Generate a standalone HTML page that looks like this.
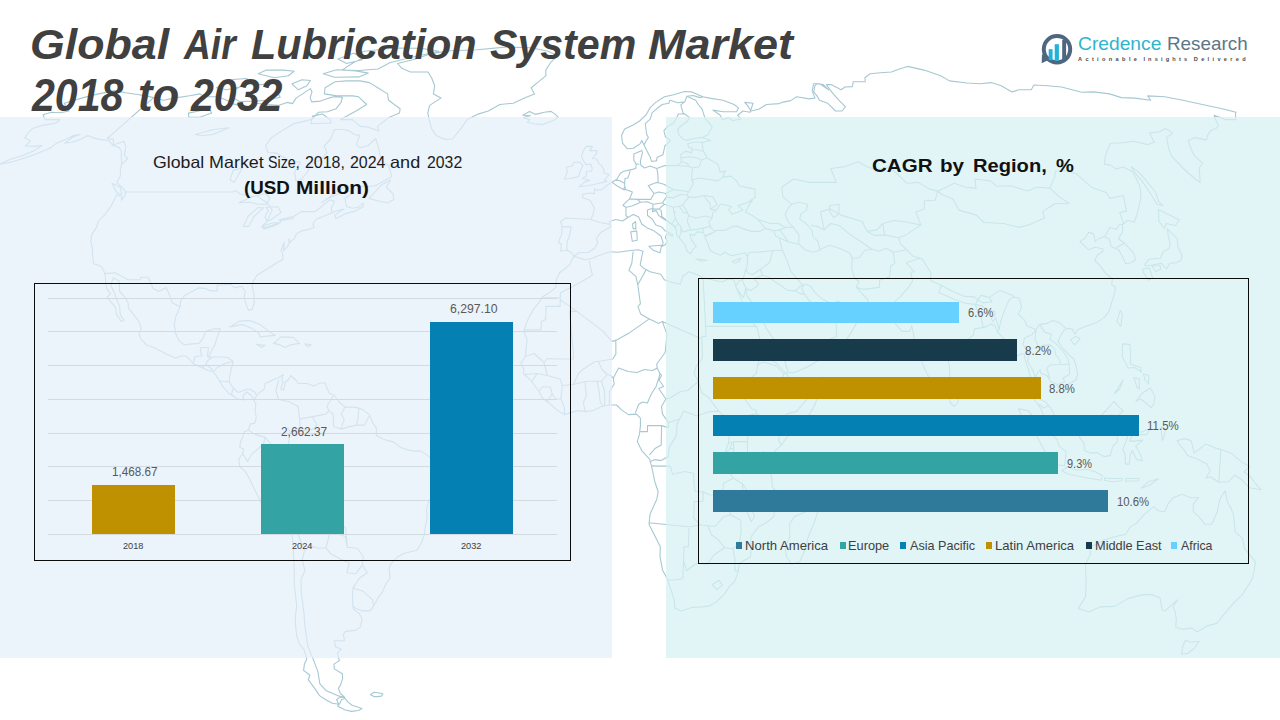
<!DOCTYPE html>
<html lang="en">
<head>
<meta charset="utf-8">
<title>Global Air Lubrication System Market 2018 to 2032</title>
<style>
html,body{margin:0;padding:0;}
body{width:1280px;height:720px;position:relative;overflow:hidden;background:#fff;font-family:"Liberation Sans",sans-serif;}
.abs{position:absolute;}
.panelL{left:0;top:117px;width:612px;height:541px;background:rgba(227,238,249,0.72);}
.panelR{left:666px;top:117px;width:614px;height:541px;background:rgba(215,241,243,0.72);}
#map{left:0;top:0;width:1280px;height:720px;}
.w{white-space:nowrap;transform-origin:0 0;}
.title{font-size:43px;line-height:50px;font-weight:bold;font-style:italic;color:#404040;}
.h1{font-size:16.5px;line-height:20px;color:#1c1c1c;}
.h2{font-size:19px;line-height:24px;font-weight:bold;color:#111;}
.c{white-space:nowrap;text-align:center;}
.boxL{left:34px;top:283px;width:537px;height:278px;border:1.5px solid #0b0b0b;box-sizing:border-box;}
.boxR{left:698px;top:278px;width:551px;height:286px;border:1.5px solid #0b0b0b;box-sizing:border-box;}
.grid{left:48px;width:509px;height:1px;background:#d3dbe1;}
.bar{position:absolute;}
.val{font-size:12.2px;line-height:15px;color:#595959;}
.yr{font-size:8.7px;line-height:11px;color:#404040;}
.lg{font-size:12.8px;line-height:16px;color:#404040;}
.sq{width:6px;height:6.6px;}
</style>
</head>
<body>
<svg id="map" class="abs" viewBox="0 0 1280 720" fill="none" stroke="#a6c8d2" stroke-width="1.1" stroke-linejoin="round" stroke-linecap="round">
<path d="M573.0,257.3 575.5,256.8 585.0,259.8 592.5,258.3 599.6,255.3 609.9,251.8 618.2,252.3 628.5,250.8 638.0,249.8 643.0,251.3 641.6,257.3 640.2,264.8 643.6,268.3 650.0,271.8 660.7,274.3 664.3,279.8 671.6,282.3 680.2,284.3 682.7,276.3 688.7,271.8 695.2,273.8 703.0,277.8 713.8,280.3 722.4,281.8 728.5,278.8 734.1,280.3 736.0,286.9 739.6,295.4 743.3,303.9 748.3,313.9 751.8,321.4 757.4,328.9 759.7,338.9 765.3,346.4 770.4,359.0 777.2,364.0 784.1,371.5 787.7,375.0 787.4,379.0 793.4,384.5 804.2,380.5 813.0,380.0 822.5,377.0 822.9,384.0 819.2,394.0 813.9,406.5 809.6,414.1 800.9,424.1 792.1,431.1 785.5,439.1 781.0,445.6 775.2,450.6 772.0,459.1 768.8,468.2 771.7,476.7 772.3,486.7 775.7,491.7 775.5,506.7 773.7,516.7 765.5,523.2 758.4,526.8 750.9,536.8 751.1,549.3 750.6,556.8 739.5,563.3 738.0,571.8 735.1,580.8 729.2,586.9 724.2,594.4 717.3,600.9 709.8,605.9 702.2,606.9 691.7,607.4 681.0,610.9 674.9,607.9 674.1,599.4 670.8,589.4 667.8,579.8 662.6,570.3 660.0,556.8 660.3,546.8 655.3,536.8 649.0,524.2 650.0,514.2 656.8,499.2 658.2,491.7 654.8,481.7 651.8,467.2 649.6,459.1 641.7,450.6 637.3,441.6 639.5,434.1 640.4,425.6 640.4,418.1 636.4,414.1 628.4,414.6 621.8,410.1 616.5,405.0 608.5,405.0 601.9,406.5 593.1,410.6 586.5,411.6 577.6,410.6 571.0,412.6 564.4,414.6 557.7,410.6 549.0,403.0 542.4,398.0 538.9,391.5 533.7,384.0 529.3,379.0 523.7,374.0 523.8,369.0 520.8,363.0 525.3,356.5 526.4,346.4 527.0,338.9 523.8,331.4 526.1,323.9 528.9,317.4 533.9,308.9 538.8,302.9 542.8,296.4 549.8,292.4 555.9,287.4 556.1,280.3 559.6,272.8 566.1,267.8 570.3,263.8 573.0,257.3
M814.2,496.7 817.8,511.7 814.5,521.7 808.3,536.8 804.1,551.8 799.8,561.8 791.8,564.3 786.4,556.8 785.0,546.8 790.0,536.8 789.5,524.2 794.3,516.7 805.6,511.7 810.3,503.2 814.2,496.7
M579.5,186.7 588.0,185.7 597.1,183.8 606.9,181.4 604.4,180.0 609.1,174.7 603.7,172.8 604.0,169.9 601.8,166.1 598.5,163.2 596.7,159.0 592.3,158.5 596.4,153.9 597.1,150.6 589.6,150.6 592.5,146.4 586.1,146.4 583.0,151.5 581.4,156.2 583.8,161.3 586.1,164.6 590.9,164.2 592.2,168.5 591.5,171.3 586.2,171.3 586.3,176.1 582.6,178.5 589.9,180.4 584.8,181.9 579.5,186.7
M564.3,179.0 570.8,178.5 578.7,176.6 580.2,171.3 583.0,165.6 580.0,162.3 573.8,162.3 572.1,166.1 566.4,167.0 567.4,171.8 565.6,176.1 564.3,179.0
M648.9,246.3 661.6,245.3 660.0,252.8 653.3,250.3 648.9,246.3
M630.8,231.9 636.8,230.9 637.2,240.3 632.3,241.3 630.8,231.9
M632.5,224.0 635.6,221.5 635.9,228.9 633.1,228.4 632.5,224.0
M695.7,258.8 707.1,260.3 700.9,261.3 695.7,258.8
M732.2,261.3 741.0,258.3 738.9,261.6 734.5,263.3 732.2,261.3
M791.9,204.3 799.4,202.3 807.6,204.3 806.5,210.1 801.1,213.6 799.7,219.0 806.6,224.0 812.4,231.4 812.8,236.3 817.9,241.3 820.1,250.3 812.6,252.3 805.1,249.8 798.7,243.8 799.0,234.9 793.3,227.4 788.0,221.5 785.2,214.1 788.4,207.7 791.9,204.3
M829.4,205.7 839.0,204.3 838.9,214.1 833.5,217.5 829.8,211.6 829.4,205.7
M397.6,63.5 415.5,59.0 431.4,53.6 450.1,50.7 477.3,49.8 505.2,47.1 530.9,47.7 548.1,51.2 557.6,55.7 550.5,62.7 545.8,70.1 545.9,75.7 538.7,81.7 531.2,87.8 534.5,93.9 525.7,97.6 513.2,103.2 499.9,104.5 488.3,111.0 477.2,114.4 467.2,119.6 460.9,128.6 452.4,139.0 445.2,139.4 436.0,135.4 431.6,128.6 429.5,121.0 427.8,113.1 429.6,105.4 440.9,98.1 433.4,93.9 434.7,85.8 431.6,77.7 428.0,72.0 410.4,72.0 401.9,68.3 397.6,63.5
M522.8,115.2 529.5,111.4 535.6,114.4 544.3,112.2 551.0,111.4 555.3,114.4 558.3,117.4 553.2,120.5 542.5,124.6 534.1,123.7 527.2,122.3 529.7,119.6 523.2,117.8 530.4,115.7 522.8,115.2
M360.0,80.9 369.4,82.6 377.8,87.8 387.6,93.9 388.5,100.2 400.1,108.8 399.5,113.1 388.9,117.4 377.6,126.4 378.8,130.9 368.6,127.3 360.5,126.4 352.3,119.6 340.5,119.6 356.0,111.0 366.6,104.5 358.6,96.8 352.8,95.9 336.9,95.9 324.4,93.9 325.1,87.8 335.1,81.7 346.4,80.9 360.0,80.9
M230.4,95.9 239.4,101.5 255.9,101.1 266.3,100.2 280.2,97.2 277.5,91.9 282.0,84.6 274.5,83.0 260.5,84.6 246.1,83.8 234.4,89.8 230.4,95.9
M216.6,87.8 226.6,89.8 239.3,87.0 251.5,81.7 246.2,78.5 229.7,79.7 216.6,87.8
M342.1,70.1 359.2,70.5 378.1,69.0 389.8,62.7 411.6,57.2 439.0,51.2 420.7,48.3 394.9,48.0 364.4,51.2 355.1,54.2 364.8,57.2 353.2,62.7 342.1,70.1
M323.2,73.8 334.5,77.3 358.8,76.9 368.3,73.1 355.9,70.9 336.7,69.8 323.2,73.8
M258.2,73.8 274.1,77.7 288.3,75.7 294.1,71.2 283.9,70.1 266.5,70.1 258.2,73.8
M292.0,83.8 298.3,89.8 306.9,85.8 310.4,80.5 302.1,79.7 292.0,83.8
M337.9,59.0 346.7,63.5 362.0,59.8 364.0,55.7 353.6,53.3 337.9,59.0
M312.5,116.1 322.4,114.0 330.3,119.6 330.8,123.2 321.3,123.2 310.8,123.7 312.5,116.1
M368.9,198.4 381.6,184.8 390.6,180.0 386.3,187.2 393.2,194.0 393.9,199.4 387.9,202.8 381.2,201.8 368.9,198.4
M112.0,183.3 120.5,187.2 121.6,194.5 116.9,193.0 112.0,183.3
M229.9,326.9 238.8,321.4 249.8,320.4 260.1,324.4 268.7,331.4 275.2,335.4 259.8,336.9 259.0,332.9 250.9,327.9 242.8,324.4 229.9,326.9
M273.5,343.4 281.1,336.9 293.2,337.4 299.6,343.4 290.3,344.9 284.8,347.5 280.3,344.9 273.5,343.4
M256.4,344.4 265.0,345.4 261.7,347.5 256.4,344.4
M304.8,343.9 311.2,344.9 307.6,346.7 304.8,343.9
M1131.1,166.6 1139.6,172.8 1147.6,182.4 1155.4,192.0 1158.8,201.8 1163.1,205.7 1157.1,204.3 1151.1,194.5 1143.0,182.4 1135.0,172.8 1131.1,166.6
M1158.5,209.6 1169.5,215.1 1179.4,220.0 1175.5,225.5 1166.2,223.5 1164.5,228.4 1158.9,221.5 1158.5,209.6
M1167.3,228.9 1177.4,238.8 1177.7,246.3 1182.1,256.3 1180.9,260.3 1176.7,262.8 1169.8,263.3 1166.6,268.8 1161.4,263.3 1153.7,264.8 1145.9,266.3 1144.7,264.3 1149.2,259.3 1160.3,258.3 1163.2,251.8 1168.7,248.8 1170.2,243.8 1168.4,236.3 1167.3,228.9
M1142.7,268.8 1149.6,268.3 1152.6,277.8 1148.6,280.3 1143.5,272.8 1142.7,268.8
M1152.2,266.3 1160.1,265.3 1160.5,269.3 1155.7,271.8 1152.2,266.3
M1120.3,310.4 1122.3,313.9 1120.9,326.4 1116.9,321.4 1120.3,310.4
M1070.4,339.9 1075.5,336.4 1080.2,338.4 1074.6,344.9 1070.4,339.9
M949.9,388.0 955.5,394.0 958.5,401.5 954.3,406.5 950.1,402.5 949.3,394.0 949.9,388.0
M1122.4,343.9 1129.9,344.4 1130.6,354.0 1130.4,364.0 1140.5,367.5 1141.5,372.0 1134.8,367.5 1128.3,368.0 1125.5,363.0 1122.3,356.5 1122.4,343.9
M1135.8,401.5 1141.9,393.5 1150.3,388.0 1154.9,396.5 1153.7,404.0 1151.3,407.6 1144.7,402.0 1140.1,399.0 1135.8,401.5
M1143.5,374.0 1148.9,375.5 1148.6,384.0 1145.0,380.0 1143.5,374.0
M1133.8,377.5 1139.2,379.0 1139.4,389.0 1137.1,387.5 1133.8,377.5
M1123.1,380.0 1114.2,394.0 1119.6,389.0 1123.1,380.0
M1079.6,429.1 1084.0,428.1 1089.6,423.1 1097.0,420.6 1103.4,413.1 1109.7,406.5 1113.8,401.5 1119.5,407.6 1123.2,410.6 1119.0,415.1 1118.3,421.6 1119.4,429.1 1117.3,435.1 1117.2,441.6 1112.7,446.6 1110.2,455.6 1104.0,456.6 1097.0,452.6 1090.4,453.1 1084.7,450.6 1084.0,443.1 1079.7,437.6 1079.6,429.1
M1018.4,408.6 1028.2,410.6 1033.7,417.6 1041.9,425.6 1048.7,431.6 1056.7,439.1 1059.6,446.6 1066.1,451.6 1064.7,465.6 1059.0,465.1 1050.5,457.6 1044.0,450.1 1039.8,441.6 1034.5,431.6 1028.6,424.1 1021.8,416.6 1018.4,408.6
M1061.8,470.7 1067.7,466.7 1076.4,470.2 1086.6,469.2 1095.2,471.7 1102.5,475.7 1101.3,480.2 1089.1,478.2 1076.0,475.7 1067.3,473.7 1061.8,470.7
M1127.4,432.6 1132.7,430.6 1141.6,432.1 1150.3,428.6 1147.0,434.6 1132.8,434.6 1129.6,441.1 1134.9,441.1 1142.9,440.1 1135.7,446.1 1140.3,454.1 1142.3,460.6 1136.6,459.6 1132.4,450.6 1130.1,455.6 1129.3,464.1 1125.3,464.1 1125.3,454.1 1122.7,450.1 1127.5,437.1 1127.4,432.6
M1177.0,440.6 1184.6,438.6 1191.1,440.6 1194.3,453.1 1205.6,444.1 1214.3,447.6 1220.9,449.6 1231.8,453.6 1241.2,461.6 1249.7,466.7 1244.0,471.7 1250.2,476.7 1258.1,486.7 1261.2,489.7 1249.2,487.7 1241.1,479.2 1234.8,475.2 1228.6,481.7 1218.8,482.2 1210.5,476.7 1205.9,478.2 1210.1,470.7 1207.0,464.1 1196.3,458.6 1187.5,455.6 1184.6,450.6 1179.1,444.1 1177.0,440.6
M1141.2,488.2 1148.4,481.7 1158.3,478.7 1150.4,484.7 1141.2,488.2
M1104.6,477.7 1112.0,478.7 1122.2,478.2 1122.0,480.7 1112.2,481.7 1104.4,480.2 1104.6,477.7
M1125.7,478.7 1138.9,478.2 1138.7,480.7 1125.5,481.2 1125.7,478.7
M1161.3,426.6 1165.8,429.1 1163.8,436.6 1162.4,440.6 1161.5,434.1 1161.3,426.6
M1089.8,546.8 1090.5,554.3 1085.5,564.3 1085.9,574.3 1086.0,586.9 1085.4,596.9 1078.4,608.4 1088.8,611.9 1099.9,606.9 1114.7,606.4 1128.3,598.4 1142.3,594.9 1151.8,594.4 1160.0,597.9 1162.2,609.9 1165.2,610.9 1177.3,599.9 1173.1,606.9 1175.2,611.9 1176.3,619.4 1175.7,626.9 1182.6,629.4 1191.6,627.9 1196.8,631.9 1207.1,625.9 1216.7,623.4 1226.1,611.9 1233.3,603.4 1242.6,594.4 1252.1,579.3 1254.4,569.3 1255.3,561.8 1249.4,554.3 1244.4,548.3 1242.5,538.3 1235.2,531.8 1234.5,524.2 1233.4,514.2 1230.9,508.2 1227.4,501.7 1225.0,490.7 1219.9,499.2 1217.3,511.7 1211.8,524.2 1204.8,524.2 1198.8,516.7 1193.2,511.7 1193.3,504.2 1198.5,497.7 1190.6,497.7 1182.3,494.2 1173.1,497.7 1167.9,504.2 1164.7,511.7 1158.3,510.7 1153.5,506.7 1144.6,514.2 1136.5,523.2 1130.2,526.8 1125.9,534.3 1114.6,536.8 1103.1,540.3 1093.8,545.8 1089.8,546.8
M1185.3,640.3 1191.2,642.3 1199.2,641.3 1194.9,647.7 1188.2,653.2 1181.6,654.2 1182.4,647.7 1185.3,640.3
M153.6,97.6 107.2,138.5 113.3,139.4 113.3,145.0 123.9,141.3 125.8,146.9 124.3,155.3 127.9,158.5 121.7,164.2
M125.0,192.0 175.6,192.0 232.8,192.0 235.6,190.6 240.2,194.0 250.4,196.4 256.5,195.9 267.1,202.8 270.1,206.7 272.2,210.1 267.1,221.5 262.8,225.5 264.2,227.9 280.3,222.5 281.2,219.5 292.8,217.0 301.2,211.6 315.1,211.6 322.6,205.7 329.6,199.9 334.4,201.3 331.3,208.2 331.9,212.1
M104.7,273.6 115.1,272.8 128.2,279.8 140.1,279.8 140.9,277.3 148.1,277.3 153.2,288.4 158.8,291.4 166.1,287.4 169.5,294.9 172.1,302.4 180.1,306.9
M193.0,363.5 195.2,356.5 201.8,356.0 200.3,350.5 200.7,347.5 208.5,347.5 207.4,356.5 211.2,358.0
M202.3,367.5 206.1,364.5 212.2,369.5 212.5,371.5
M206.1,364.5 206.8,361.5 211.2,358.0
M213.8,371.5 217.2,367.5 225.0,363.5 233.1,361.5
M220.5,381.0 224.9,381.5 229.2,382.0
M231.6,395.0 232.2,391.0 233.6,388.5
M238.9,202.8 252.0,196.9 265.6,193.5 269.8,197.9 266.7,204.3 257.7,204.3 250.9,202.3 238.9,202.8
M243.4,226.4 248.7,226.4 253.9,216.5 263.7,207.7 257.8,207.7 247.9,216.5 243.4,226.4
M265.9,207.2 278.0,206.7 280.9,212.6 270.6,220.0 266.9,221.0 265.1,216.5 268.4,210.6 265.9,207.2
M261.6,226.4 272.1,223.0 280.3,222.5 275.2,225.5 263.9,228.9 261.6,226.4
M278.6,220.0 290.8,217.0 293.3,218.5 285.4,220.0 278.6,220.0
M233.1,170.4 242.3,168.0 234.1,182.4 230.1,180.0 233.1,170.4
M195.4,134.5 213.7,129.5 229.0,127.7 212.9,134.5 201.2,135.8 195.4,134.5
M188.4,113.1 209.4,108.8 211.7,113.1 199.0,117.4 188.9,117.4 188.4,113.1
M560.3,297.9 541.9,297.9 560.3,297.9 560.1,306.4 546.0,306.4 545.7,319.4 541.3,321.4 541.1,329.9 523.8,329.9
M560.3,299.9 576.8,311.4 602.7,330.9 611.9,341.4 615.8,340.4 615.9,354.0 612.8,359.0 598.4,361.5 595.3,361.5 588.7,365.5 582.1,370.0 578.2,374.0 573.3,384.5 562.3,385.5 560.1,379.0 547.4,375.5 544.0,362.5 534.1,353.5 525.3,356.5
M573.4,359.0 573.5,354.0 569.5,311.4 576.8,311.4
M573.4,359.0 556.8,359.0 547.2,358.5 544.0,362.5
M589.2,260.8 592.4,275.3 582.3,281.3 560.4,292.9 560.3,297.9
M633.1,251.8 631.8,263.3 629.0,270.3 635.9,276.3 637.8,284.8 640.4,303.9 637.9,306.4 640.6,313.9 649.3,318.9 658.9,323.4 662.3,321.4 701.9,338.9 701.8,336.4 706.1,336.4 703.1,278.3
M637.8,284.8 645.8,270.3
M649.3,318.9 630.0,332.4 615.8,340.4
M662.3,321.4 667.0,334.4 665.2,352.5 656.7,364.0 657.2,368.0 659.4,372.5 661.6,375.5 659.1,380.0 663.6,386.5 658.7,388.5 665.9,399.0 661.5,406.5 662.5,414.1 668.7,422.6 668.3,427.6 661.6,425.6 656.3,425.6 647.5,425.6 647.5,431.6 640.8,431.6
M657.2,368.0 652.4,370.5 644.5,369.5 637.0,372.5 628.2,371.5 618.6,368.0 613.3,378.0 609.8,375.0 607.2,374.5 601.9,369.5 598.4,361.5
M659.4,372.5 659.9,374.5 656.1,386.5 651.3,394.0 647.4,403.0 642.5,402.0 638.6,404.5 635.5,412.6
M613.3,378.0 614.2,384.0 609.4,391.5 609.4,404.5
M607.2,374.5 601.5,381.5 604.6,391.5 604.6,405.5
M601.5,381.5 597.1,381.0 599.3,392.5 600.1,401.5 602.8,406.0
M597.1,381.0 585.2,381.5 585.6,389.0 586.5,395.5 583.4,402.5 585.1,411.1
M585.2,381.5 573.3,384.5
M562.3,385.5 560.9,398.5 564.4,407.6 564.4,414.6
M560.9,398.5 556.0,399.5 552.1,394.0 546.8,402.0
M552.1,394.0 550.4,387.0 542.4,387.0 538.9,391.5
M547.4,375.5 537.3,373.5 531.5,382.0
M537.3,373.5 524.1,374.5
M701.9,338.9 702.5,358.0 696.2,366.5 694.1,373.5 698.2,381.5 702.0,393.0 708.6,397.5 718.6,411.1 723.4,415.1 733.6,418.6 735.4,417.6 745.6,417.6 747.8,415.6 756.1,413.6 756.5,410.6 752.1,409.1 743.0,396.5 747.8,394.0 748.5,383.5 751.3,377.5 756.5,373.0 757.5,365.0 763.3,349.0 765.3,346.4
M705.7,326.4 733.9,326.4 757.3,326.4
M698.2,381.5 687.8,390.5 680.4,391.5 670.3,398.0 665.9,399.0
M718.6,411.1 709.3,411.6 696.9,416.1 683.7,411.1 679.7,419.1 677.1,424.1 676.3,435.6 669.1,447.6 668.2,456.6 661.1,460.6 654.9,459.6 650.5,461.6
M679.7,419.1 668.7,422.6
M661.6,425.6 661.2,445.1 655.0,448.6 649.7,454.6
M651.4,465.6 655.8,466.1 670.4,466.1 672.5,474.2 683.5,471.7 685.8,471.7 693.7,473.2 694.0,484.2 695.2,491.7 703.1,491.7 702.9,501.2 694.1,501.7 693.7,517.7 699.6,524.7 690.8,526.8 678.2,525.7 658.6,523.7 649.0,522.7
M703.1,491.7 709.2,494.7 717.1,495.7 724.7,503.7 728.3,503.7 728.4,497.7 722.3,496.7 723.5,483.2 733.3,478.2 728.1,470.2 727.4,458.6 725.7,450.1 728.4,443.6 729.8,432.6 735.5,425.6 733.6,418.6
M733.3,478.2 742.5,483.7 749.6,494.7 762.4,495.2 775.3,489.2
M742.5,483.7 743.3,499.7 741.4,505.2 729.8,511.7 730.5,514.7 740.8,520.2 741.1,531.8 739.3,543.3 732.9,548.8 735.0,559.3 734.9,566.8 735.0,570.8 738.4,571.3
M749.6,494.7 750.6,504.2 754.5,516.7 751.2,521.7 747.3,512.7 743.1,506.7
M730.5,514.7 723.9,516.7 715.2,526.2 707.8,525.7 699.6,524.7
M707.8,525.7 711.4,534.8 717.8,539.3 724.7,547.8 732.9,548.8
M724.7,547.8 714.0,554.8 707.6,564.3 696.4,563.3 686.6,570.8 683.6,560.8 684.1,546.8 688.4,546.8 689.0,528.3
M683.6,560.8 682.8,578.8 671.7,580.3 667.8,579.8
M728.4,443.6 732.4,442.1 733.7,441.6 747.4,441.6 747.7,459.1 763.7,451.6 764.6,454.6 770.7,460.1
M747.4,441.6 747.9,435.6 752.3,428.1 750.0,419.1 747.8,415.6
M756.1,413.6 765.9,418.6 773.4,417.1 782.7,417.1 778.8,422.6 778.9,441.1 781.5,445.1
M782.7,417.1 787.5,413.6 796.3,411.6 809.2,396.5 804.8,396.5 791.4,391.5 785.8,382.0 787.4,379.0
M785.8,382.0 781.4,381.5 783.7,374.0 776.4,366.0 768.4,363.5 763.5,362.0 757.5,365.0
M783.7,374.0 786.8,373.0
M712.3,584.8 719.0,580.3 722.5,584.8 717.0,589.9 712.3,584.8
M732.4,442.1 730.1,448.6 733.7,448.6 733.7,441.6
M730.1,448.6 726.6,451.6 727.4,458.6 733.6,453.1 733.7,448.6
M757.8,219.5 770.3,223.5 778.4,223.5 785.2,227.4 793.3,227.4
M791.9,204.3 783.0,196.9 781.8,187.2 793.6,179.0 809.5,182.4 824.8,182.4 836.2,182.4 830.7,168.5 845.1,166.6 858.3,161.8 867.5,167.0 877.8,169.9 888.0,167.0 894.4,171.3 907.1,183.3 918.1,182.4 929.5,189.1 937.8,191.1
M937.8,191.1 946.1,187.2 954.0,183.3 966.1,187.2 976.1,188.1 974.8,179.0 990.6,180.9 996.3,186.2 1010.6,185.7 1027.4,191.1 1037.1,187.2 1049.9,188.1
M1049.9,188.1 1054.8,176.6 1055.3,171.3 1064.8,170.4 1076.4,173.7 1091.3,187.2 1106.2,192.5 1110.2,198.4 1123.4,195.5 1126.5,211.1 1119.7,212.6 1123.1,222.0 1122.6,224.5
M937.8,191.1 941.7,194.5 953.0,198.9 958.9,210.1 976.4,215.1 984.1,222.5 1003.4,223.5 1019.4,227.4 1030.0,224.5 1044.5,218.0 1042.7,211.6 1054.8,203.8 1069.0,203.3 1059.2,196.9 1049.9,188.1
M937.8,191.1 935.1,200.3 924.3,200.8 924.2,209.1 915.9,212.1 920.8,225.0 914.3,229.4 906.7,234.4 898.8,237.8 900.5,243.8 906.7,249.8
M920.8,225.0 906.5,222.0 894.0,220.5 882.9,223.5 876.8,229.9 867.2,231.4 862.2,221.5 841.0,215.1 830.1,209.1 820.6,211.6 824.2,229.9 817.3,226.4 811.0,225.5
M824.2,229.9 830.6,223.5 839.2,225.5 849.8,234.4 862.0,242.3 871.9,249.3 864.7,250.3 859.4,257.8 852.1,258.3 850.1,253.3 840.8,248.8 829.8,245.3 820.3,249.3
M871.9,249.3 878.6,251.3 886.1,248.3 893.3,252.3 906.7,249.8
M867.2,231.4 874.5,235.4 884.5,234.9 882.9,223.5
M884.5,234.9 898.8,237.8
M852.1,258.3 851.7,268.8 854.8,278.8 859.1,281.3 856.3,287.4 863.4,289.4 879.3,287.4 879.6,280.3 889.8,276.8 890.5,266.3 894.9,263.3 893.3,252.3
M856.3,287.4 868.4,300.4 863.0,310.9
M803.5,286.3 799.4,281.3 790.8,271.3 787.3,261.3 782.5,250.3 779.2,237.8
M779.2,237.8 775.6,235.9 773.8,230.9 765.6,228.4
M779.2,237.8 788.1,241.8 797.9,244.3
M773.8,230.9 779.7,229.9 785.2,227.4
M779.7,229.9 782.4,233.4 788.1,241.8
M747.5,256.8 749.3,252.3 756.8,252.3 772.7,250.8 782.5,250.3
M772.7,250.8 769.5,262.8 760.3,269.3 762.7,275.3 753.8,278.8 758.6,283.8 756.8,286.3 751.2,290.4 746.2,288.9
M760.3,269.3 752.5,274.8 747.7,272.8 747.0,270.3
M762.7,275.3 767.9,276.8 787.8,290.4 795.5,290.9 800.1,286.3 801.4,286.3
M795.5,290.9 800.9,293.9 803.9,293.9
M742.1,279.8 746.2,288.9
M746.6,270.8 744.9,270.8
M821.8,316.4 824.8,321.9 836.2,322.9 837.7,316.4 839.1,312.4 840.4,311.9
M836.2,322.9 836.5,336.4 823.8,341.4 810.1,344.9 800.0,350.5 791.7,349.5 786.4,349.0 784.6,354.5
M823.8,341.4 829.5,353.5
M892.3,317.9 900.5,314.9 903.3,312.9 895.1,301.4 900.7,296.4 909.3,286.3 912.7,280.8 910.7,272.3 914.4,271.8 906.5,262.8 917.9,258.8 922.1,258.8
M906.7,249.8 913.1,256.3 922.1,258.8 931.2,273.3 930.3,280.3 941.3,285.3 938.8,292.4 954.7,299.4 966.2,303.4 975.4,304.4 977.5,300.4 977.9,299.9
M941.3,285.3 950.8,290.4 964.8,296.4 974.3,296.9 977.9,299.9 980.8,295.4 989.3,297.4 992.0,301.9 982.8,302.9 977.9,299.9
M989.3,297.4 999.8,290.4 1012.8,295.4 1013.6,296.9
M975.4,304.4 977.2,311.4 980.7,314.9 982.8,326.4 983.8,327.4
M975.4,304.4 983.1,306.4 986.5,310.4 994.9,311.4 995.0,315.4 991.2,318.4 992.9,321.4 995.8,317.9 998.9,329.9 997.6,332.4
M998.9,329.9 1000.7,321.4 1004.5,310.4 1009.1,299.9 1013.6,296.9 1019.5,298.4 1021.5,307.4 1018.1,313.9 1024.7,320.4 1026.9,325.9 1036.1,329.4 1032.2,334.4 1024.5,337.9 1023.1,343.9 1028.9,354.5 1027.6,361.5 1032.9,370.5 1035.3,377.5 1031.7,385.5
M1036.1,329.4 1039.6,324.4 1046.8,323.4 1052.8,320.4 1058.8,322.4 1065.9,328.4
M1036.1,329.4 1035.0,338.9 1039.0,348.5 1042.5,345.4 1050.7,344.9 1054.8,349.5 1055.5,354.5 1059.8,360.0 1060.4,364.5 1069.1,364.0 1069.7,374.5 1063.0,378.0 1064.8,382.0 1057.5,384.5
M1039.6,324.4 1044.9,332.4 1051.7,334.4 1049.9,339.4 1055.7,343.4 1063.0,351.5 1068.0,359.0 1069.1,364.0
M1060.4,364.5 1049.9,365.0 1046.7,368.5 1049.9,378.0
M1039.4,404.5 1044.0,408.1 1048.3,405.5
M1104.8,236.3 1109.8,227.4 1116.2,229.4 1119.4,224.5 1123.0,224.5
M1116.9,247.3 1124.4,243.3
M1082.2,426.6 1092.0,431.6 1104.3,429.6 1109.2,415.1 1117.2,415.6
M1220.9,449.6 1218.8,482.2
M562.0,226.9 571.3,226.9 569.4,236.3 567.2,241.3 566.9,250.3
M590.5,219.5 600.3,222.5 610.4,224.5
M611.4,181.9 617.5,186.2 623.4,189.6 625.7,189.6 632.4,192.0 629.6,198.9 622.9,205.2 625.9,207.2 626.0,215.5 627.9,217.5
M615.0,180.4 619.1,180.4 624.6,183.3 624.8,186.7 623.4,189.6
M624.6,183.3 625.0,178.5 627.7,178.0 629.1,174.7 630.0,171.3
M624.8,186.7 625.7,189.6
M635.7,163.7 639.0,164.2
M629.6,198.9 637.4,199.4 640.7,202.3 635.9,204.3 632.7,205.7 626.7,207.2 625.9,207.2
M637.4,199.4 640.9,199.4 650.7,199.4 654.0,193.5 648.2,185.7 656.3,182.4 658.2,182.8 657.7,172.8 656.7,168.5
M640.7,202.3 647.4,201.8 653.2,204.3 662.7,202.8 662.7,202.3 666.7,196.9 666.0,193.5 658.7,192.0 654.0,193.5
M653.2,204.3 652.6,209.1
M658.2,182.8 663.9,184.3 673.4,189.6 687.7,191.5 688.9,191.5 693.3,183.8 691.6,177.1 692.5,168.0 688.3,166.1 677.5,165.8
M666.0,193.5 673.4,189.6
M666.7,196.9 673.3,197.9 680.0,194.5 686.6,195.0 688.9,191.5
M662.7,202.8 664.2,204.3 673.2,207.2 679.1,206.2 682.7,204.7 688.9,196.9 686.6,195.0
M652.6,209.1 658.9,209.1 664.2,204.3
M658.9,209.1 661.3,210.6 661.8,216.5 668.1,221.5 671.9,224.0
M673.2,207.2 673.9,212.1 675.4,218.5 671.9,224.0 675.4,226.9
M673.9,212.1 675.5,212.1
M679.1,206.2 683.4,212.6 687.8,213.1 688.6,215.5 687.3,221.5 690.6,229.4 682.7,231.9 681.0,226.9 678.3,223.5 675.4,218.5
M678.3,223.5 675.4,226.9
M681.0,226.9 680.7,232.4 679.2,237.8
M682.7,231.9 690.6,229.9 696.6,229.4 703.7,227.9 703.0,231.9
M703.7,227.9 710.4,226.4
M688.6,215.5 695.7,218.0 705.7,216.0 712.1,218.0
M687.8,213.1 682.7,204.7
M688.9,196.9 695.5,197.4 703.6,195.5 710.1,203.8 710.3,209.1 716.3,210.1
M703.6,195.5 713.0,196.9 717.2,204.7 710.3,209.1
M693.3,183.8 691.7,180.0 698.8,178.0 718.0,180.9 722.6,177.1 725.5,170.9 720.3,172.3 717.9,164.2 707.2,158.1 703.7,151.5 701.8,143.2 703.4,142.2
M692.5,168.0 699.1,166.6 701.7,159.9 707.2,158.1
M680.8,158.1 687.9,156.7 695.4,157.6 701.7,159.9
M691.9,149.7 696.9,149.7 703.7,151.5
M688.3,166.1 688.2,163.7 682.1,161.8
M722.6,177.1 730.8,176.1 737.0,181.4 739.4,185.7 747.3,187.6 755.1,189.1 755.1,197.4 749.2,201.3
M702.5,137.6 708.1,134.5 712.2,126.8 704.9,117.8 702.1,109.2 698.3,104.5 695.7,100.2
M695.7,100.2 686.8,96.3 684.8,101.9 680.8,104.9 683.1,113.1 684.6,114.0
M686.8,96.3 692.9,95.5 699.8,97.6 702.8,96.8
M684.8,101.9 677.8,102.8 669.9,100.2 668.8,103.2 662.2,104.5 656.6,108.8 652.2,112.7 650.2,119.2 645.3,123.7 646.6,134.0 648.3,137.6 645.8,141.3 644.0,145.0
M702.8,96.8 691.9,91.9 684.6,91.5 673.7,94.7 664.5,96.8 655.7,102.4 649.9,107.9 645.8,115.2 639.6,121.0 633.1,125.0 624.7,129.1 621.5,135.4 622.5,143.2 627.4,148.8 633.4,148.3 640.3,143.6 641.8,140.4 644.0,145.0 646.5,150.1 650.4,157.6 651.5,161.3 656.6,160.9 657.0,157.6 662.9,154.8 664.1,149.7 664.8,146.0 670.5,140.8 665.4,136.7 663.9,130.9 667.5,126.4 673.8,122.8 676.4,118.3 678.3,114.0 684.6,114.0 689.4,117.4 687.7,121.0 682.0,125.0 677.6,129.5 679.2,135.4 683.3,139.0 687.1,140.4 693.8,138.5 702.5,137.6 710.8,140.4 703.4,142.2 694.5,142.2 687.6,143.6 689.0,147.8 691.9,147.8 691.7,152.9 685.6,151.1 680.7,154.8 681.4,161.8 677.5,165.6 672.7,165.6 664.9,165.6 656.7,168.5 650.1,166.1 644.4,168.0 640.8,165.1 640.4,160.9 642.4,152.9 641.9,150.6 633.8,153.9 633.8,160.4 636.1,163.7 635.8,168.5 630.1,169.9 623.7,171.3 620.5,173.3 616.6,179.5 611.4,182.4 607.7,184.8 601.8,189.6 596.3,190.1 594.6,188.6 594.4,193.5 589.0,193.0 582.3,194.5 583.0,197.9 590.1,200.3 592.3,204.3 594.3,207.7 593.1,214.1 590.9,219.5 582.6,219.0 573.8,218.5 565.9,218.0 560.6,221.5 562.0,226.4 561.7,233.9 558.5,242.3 561.4,244.3 560.7,251.3 566.9,250.3 571.0,252.3 574.2,256.3 578.9,252.8 588.4,252.3 594.6,248.3 597.9,242.8 596.3,238.8 600.7,232.4 610.4,226.9 609.5,221.5 615.7,219.5 622.4,221.0 627.9,217.5 633.3,214.6 638.7,217.0 641.7,224.0 647.2,227.9 653.4,230.4 661.1,236.3 663.1,242.3 662.1,246.3 665.3,244.8 667.5,241.3 665.3,237.8 666.6,233.9 672.5,236.3 672.4,234.4 664.7,230.4 661.7,226.9 655.9,225.0 652.2,219.0 647.5,215.5 647.4,210.1 653.0,208.2 652.5,211.6 656.1,210.6 658.7,215.5 663.8,219.0 668.5,222.0 674.1,226.4 676.4,229.9 676.5,234.9 680.1,238.8 684.6,244.3 687.2,251.3 690.7,253.8 692.8,249.3 696.3,246.3 691.6,240.3 689.9,234.4 694.4,235.4 696.9,231.9 703.1,232.4 704.6,235.4 709.4,234.9 715.1,231.4 711.5,228.4 708.7,222.5 712.1,218.0 712.8,212.6 716.3,210.1 720.4,204.3 725.1,204.7 731.5,206.7 728.5,209.6 731.9,214.1 738.2,212.1 743.2,210.1 737.8,205.7 746.6,202.8 752.3,200.8 749.8,203.8 747.1,209.1 745.3,212.1 752.3,215.5 757.8,219.5 765.6,228.4 759.7,231.4 751.6,231.4 743.1,228.9 738.6,226.4 732.6,226.4 725.1,230.4 716.2,230.4 715.1,231.4 708.2,234.4 704.8,237.3 707.4,242.8 710.2,250.3 714.2,252.8 720.7,255.3 724.5,252.3 731.6,255.8 738.4,254.3 745.3,252.8 747.5,256.8 747.4,262.8 746.4,268.8 744.7,272.8 743.2,278.8 742.1,279.8 739.2,280.8 735.5,286.3 740.4,293.9 743.6,297.4 745.5,288.9 747.4,296.4 755.1,306.4 761.4,316.4 766.5,328.9 773.6,338.9 780.9,351.5 785.0,361.5 788.1,372.5 795.1,372.5 808.0,366.5 818.6,360.5 826.0,354.0 835.5,351.5 843.6,343.9 848.7,336.4 853.2,328.9 856.2,323.9 850.4,318.4 843.4,316.4 840.4,311.9 839.5,304.9 837.1,306.4 832.4,314.9 821.8,316.4 819.2,311.4 817.7,305.9 815.9,308.9 812.3,303.9 807.9,298.9 803.3,292.4 801.4,286.3 805.3,284.3 810.7,286.3 814.8,292.4 822.0,298.9 831.1,303.4 838.5,300.9 843.7,307.9 851.2,309.4 862.2,310.9 872.8,309.9 883.5,309.4 887.4,312.9 892.3,317.9 896.0,324.4 902.0,331.4 909.8,331.4 911.7,325.4 913.6,333.9 914.4,341.4 917.6,351.5 921.6,361.5 925.9,371.5 930.4,380.0 935.1,391.5 939.2,396.0 942.1,392.0 946.5,390.0 948.8,385.0 949.8,374.0 949.6,366.5 948.2,360.0 952.5,355.5 957.0,353.0 961.5,346.4 967.2,339.4 973.3,335.4 974.5,328.9 980.9,327.9 987.2,326.4 991.1,323.9 994.8,325.4 997.6,332.4 1004.1,338.9 1008.6,346.4 1010.8,356.5 1014.4,357.5 1020.5,354.0 1024.4,354.0 1025.5,361.5 1028.3,369.0 1031.0,379.0 1031.4,387.5 1030.5,395.5 1036.6,402.5 1040.9,408.6 1045.3,421.6 1050.8,426.6 1055.3,429.6 1058.4,429.6 1055.1,422.6 1054.4,415.1 1050.1,407.6 1046.3,402.5 1039.9,399.0 1038.2,391.5 1035.0,390.0 1034.4,381.5 1036.7,374.0 1040.2,369.5 1041.1,373.5 1047.0,375.5 1050.6,381.5 1056.6,384.0 1060.2,391.5 1061.7,393.5 1066.7,388.5 1068.5,384.0 1076.0,380.0 1077.6,374.0 1076.3,366.5 1073.7,359.0 1068.1,354.0 1062.4,348.0 1058.0,341.4 1060.3,336.4 1063.6,330.4 1067.6,328.4 1072.0,328.9 1075.2,334.4 1076.6,330.4 1082.6,327.4 1089.5,324.9 1096.8,322.4 1104.5,317.4 1109.5,310.4 1111.2,303.9 1114.0,295.4 1115.6,287.4 1111.6,284.3 1112.5,278.8 1106.0,273.8 1099.3,264.8 1094.7,260.3 1097.4,255.3 1103.0,251.3 1102.7,248.8 1095.0,247.3 1088.7,249.8 1083.9,245.3 1080.0,241.3 1084.7,238.8 1088.7,232.4 1093.6,233.9 1095.2,241.3 1098.2,238.8 1104.2,236.8 1109.2,238.8 1111.0,246.3 1119.1,250.3 1123.5,258.8 1125.7,263.8 1131.1,262.8 1135.7,259.8 1133.5,252.8 1125.1,243.8 1118.6,238.8 1122.6,231.4 1122.6,224.5 1127.6,220.5 1134.4,222.0 1137.1,214.1 1139.5,204.3 1141.1,195.9 1140.0,187.2 1136.3,178.5 1132.5,171.8 1123.3,167.0 1116.1,168.9 1110.4,165.1 1104.5,164.2 1105.3,156.2 1107.7,149.2 1110.7,143.2 1122.7,142.7 1133.7,141.3 1147.8,144.6 1154.2,142.2 1149.6,133.1 1159.4,131.8 1165.9,128.6 1172.6,133.1 1166.6,137.6 1168.9,149.2 1171.7,156.2 1182.8,168.0 1196.2,180.0 1200.1,182.4 1199.8,175.2 1199.2,168.0 1202.5,163.2 1194.7,156.2 1191.2,149.2 1188.1,140.8 1194.7,137.6 1206.4,139.9 1207.6,135.4 1210.3,130.9 1215.9,128.6 1218.5,125.5 1215.5,119.6 1214.1,115.2 1225.6,119.6 1235.8,119.6 1235.5,114.0 1236.0,112.2 1222.2,108.8 1202.4,104.5 1182.8,100.2 1164.9,96.8 1147.7,95.9 1150.7,100.2 1134.8,98.1 1121.4,97.6 1109.5,93.9 1093.7,91.9 1081.8,92.3 1061.5,87.0 1047.4,85.8 1033.9,85.0 1031.3,89.8 1018.9,89.8 1012.1,91.9 1001.2,85.8 991.0,82.6 980.2,83.8 967.1,83.0 949.5,80.9 940.6,75.7 924.1,70.1 907.6,66.4 899.4,69.0 891.4,72.0 880.5,72.7 870.0,73.8 864.9,77.7 865.3,81.7 853.2,81.7 852.5,86.6 845.1,87.0 841.1,89.8 831.0,84.6 826.4,84.6 831.6,91.9 838.8,100.2 845.4,106.7 842.1,111.0 835.5,111.0 827.6,103.2 819.5,100.2 817.0,95.9 813.7,91.9 814.9,85.8 816.6,83.8 823.3,84.6 828.6,89.8 819.7,83.8 813.5,83.8 812.2,91.1 815.0,98.1 809.1,98.9 796.8,96.8 790.7,100.6 781.9,102.4 779.2,103.6 766.6,104.5 758.7,109.2 751.1,111.0 747.4,105.4 744.7,102.4 753.1,103.2 750.0,112.2 742.9,111.0 737.7,115.2 740.7,119.2 732.6,120.5 728.4,117.4 722.4,120.1 720.3,115.2 712.9,110.1 723.3,111.8 736.6,111.8 738.5,107.9 734.1,104.5 723.0,100.2 709.5,98.1 702.8,96.8
M43.0,114.8 51.6,112.2 60.3,112.7 69.0,111.0 66.9,108.4 64.3,103.2 83.4,97.6 98.5,93.9 114.6,90.6 125.6,92.7 135.8,94.3 146.2,95.9 153.6,97.6 163.4,100.2 173.9,98.1 191.2,95.5 199.6,93.9 205.7,96.8 218.4,96.8 227.3,100.6 232.5,103.6 238.9,105.4 249.6,106.2 255.6,103.2 267.4,104.5 278.1,105.4 287.1,102.4 292.5,103.6 296.1,98.1 310.4,88.6 312.0,91.9 310.2,97.6 311.7,101.9 320.4,101.1 329.0,98.1 333.8,96.8 342.4,97.2 341.1,102.4 336.0,108.8 327.3,111.8 318.7,112.2 312.1,119.2 303.8,121.4 293.7,123.7 281.8,130.9 271.4,137.6 265.7,145.5 268.0,152.5 276.1,152.9 282.9,156.7 289.5,160.9 300.5,162.3 294.4,172.8 295.5,176.6 295.9,180.9 301.6,179.0 308.6,170.4 309.4,164.6 321.5,159.5 327.0,152.5 324.1,146.0 330.7,139.0 334.6,129.5 343.2,129.5 349.4,130.9 354.3,134.5 359.8,135.4 356.2,144.6 360.0,147.8 368.2,145.5 375.7,138.5 378.4,146.9 380.0,155.7 382.9,161.8 388.6,165.6 390.1,170.4 391.8,176.6 385.7,180.0 375.4,185.7 365.4,186.7 356.3,185.7 345.7,186.2 336.0,192.0 327.0,198.9 321.2,202.8 329.4,197.9 339.2,193.5 350.0,191.1 351.4,194.0 344.8,198.4 345.7,202.3 346.4,206.2 352.2,208.2 358.6,207.2 363.2,202.8 363.1,206.7 356.3,210.6 346.0,213.6 336.0,218.5 334.7,215.1 343.9,209.1 337.3,210.6 331.5,213.1 322.9,216.5 316.6,219.0 312.9,223.5 314.1,227.4 308.2,229.4 301.6,230.9 296.8,233.4 294.4,238.3 290.0,242.3 288.9,238.8 289.0,244.3 283.5,250.8 284.3,242.3 281.1,250.3 283.0,255.3 282.6,259.8 276.8,262.8 270.9,266.8 265.0,270.3 257.0,275.3 253.4,281.3 252.0,285.3 253.8,293.9 254.3,302.4 252.2,309.4 248.5,310.4 246.5,305.4 244.0,297.9 245.3,291.4 241.6,286.3 234.5,287.9 230.6,284.3 223.3,284.8 217.2,285.3 217.3,290.9 210.9,290.9 205.5,288.4 198.3,287.9 193.0,290.9 184.8,295.4 180.7,300.4 180.1,306.9 175.5,317.4 174.3,324.9 175.6,333.4 179.3,340.9 184.4,344.9 192.4,343.9 199.0,343.4 203.1,338.4 205.8,331.4 214.0,328.9 220.5,328.9 217.1,337.4 214.9,344.9 212.2,349.0 208.6,357.0 213.9,357.0 221.3,357.0 227.8,357.5 233.1,361.5 231.2,369.0 229.7,376.5 229.2,382.0 233.6,388.5 238.3,392.5 245.0,390.0 249.5,389.0 254.6,392.0 256.7,395.5 253.8,400.5 251.8,396.0 247.1,392.0 243.0,395.5 243.7,400.0 237.5,399.0 231.6,395.0 228.6,393.0 223.1,387.0 220.0,382.0 216.1,375.5 213.0,371.5 207.8,370.5 200.6,367.0 193.0,363.5 186.5,356.0 181.2,356.0 175.3,358.0 166.2,354.0 154.8,348.0 146.5,344.9 140.8,338.9 139.0,333.9 141.3,328.4 138.3,320.4 133.0,313.9 128.3,307.9 128.2,302.9 124.6,296.9 119.6,291.4 119.3,281.3 113.3,277.8 110.7,285.3 114.0,291.9 116.4,298.9 119.6,306.4 120.3,314.9 124.1,320.4 121.3,321.4 116.5,314.4 115.5,307.4 111.2,302.4 107.0,297.4 110.5,293.9 106.5,287.9 105.7,281.3 104.8,273.3 101.9,267.3 98.4,265.3 93.6,263.8 92.4,254.8 92.5,248.3 90.8,241.3 91.8,234.4 96.5,227.4 98.0,222.0 105.2,214.1 111.3,205.7 116.6,195.0 122.1,196.4 121.1,200.3 125.1,195.5 125.3,191.5 122.1,187.2 116.7,182.4 120.3,176.1 120.4,168.9 121.7,164.2 121.3,158.5 121.5,151.5 119.0,147.4 112.8,145.5 109.1,140.8 99.2,139.4 92.4,137.6 87.9,135.4 79.3,139.9 71.6,142.2 64.6,143.2 72.5,137.2 80.2,134.5 73.9,135.4 64.1,139.9 55.9,143.6 49.8,148.3 35.9,153.9 23.5,158.5 10.2,162.3 -0.4,164.2 9.7,159.5 20.6,156.2 33.5,151.1 42.1,145.5 35.0,146.4 25.5,146.0 30.5,140.8 25.0,138.1 27.2,133.6 32.4,128.6 40.3,125.9 49.4,124.1 55.6,123.2 60.1,119.6 53.3,119.6 44.9,119.6 43.9,116.5 43.0,114.8
M256.7,395.5 259.0,393.0 264.0,389.5 265.2,383.5 270.7,381.0 278.8,377.5 283.4,374.5 281.8,379.0 282.9,382.5 280.7,389.0 283.8,390.0 285.1,382.5 288.8,379.0 290.8,375.5 296.2,380.5 298.2,383.5 307.0,383.5 313.5,386.0 320.2,383.0 325.1,383.0 326.6,387.5 329.5,393.5 333.8,395.0 339.3,402.0 344.9,407.1 353.8,407.1 359.0,408.1 364.2,410.6 369.9,415.1 372.0,421.6 376.4,428.1 376.3,435.6 382.9,439.1 386.1,440.1 394.0,442.1 400.7,447.6 405.2,449.1 414.0,451.1 420.7,451.1 427.3,455.1 433.1,460.6 440.7,462.6 443.0,469.2 444.0,476.7 442.0,483.2 436.9,489.7 432.6,495.2 428.5,501.7 426.6,509.2 427.1,519.2 425.3,526.8 424.4,534.8 420.7,544.3 416.8,550.3 410.8,551.8 404.4,553.3 397.8,556.8 391.0,563.3 389.1,569.3 390.1,577.8 385.7,584.3 382.5,591.9 377.6,598.4 373.8,605.9 370.0,610.9 362.9,610.9 355.8,608.4 352.9,606.4 353.5,609.4 359.2,613.4 362.1,618.9 360.5,626.9 355.5,630.4 345.5,631.4 343.3,634.4 344.6,640.8 334.4,640.8 335.4,646.8 341.3,649.2 337.4,653.2 339.3,660.6 334.0,664.1 334.3,668.9 342.4,673.8 342.6,678.7 340.5,685.1 338.4,688.4 340.2,693.2 344.7,697.5 340.3,697.1 336.7,699.5 338.6,704.3 332.4,703.3 325.4,699.5 319.5,695.6 314.7,688.4 308.2,679.7 309.9,675.3 303.6,670.4 304.4,664.1 306.8,659.1 303.9,649.2 299.5,644.3 296.7,635.9 295.6,625.9 295.2,616.9 296.7,605.9 295.4,594.4 294.2,584.3 294.3,571.8 293.7,559.3 293.1,546.8 292.2,534.3 290.7,528.3 285.4,523.2 276.2,518.2 268.3,513.2 262.8,505.7 258.2,496.7 253.1,486.7 249.2,478.2 245.4,471.7 239.8,466.7 238.7,459.1 242.6,453.6 243.8,449.1 239.8,447.6 240.5,441.6 243.1,436.6 243.6,432.1 248.5,430.1 250.0,424.1 254.9,423.1 256.3,417.1 255.1,411.6 255.9,404.0 253.8,400.5
M345.2,698.5 347.7,701.9 352.1,705.2 362.0,708.6 358.5,710.5 351.6,711.4 345.4,710.0 337.7,706.2 339.9,703.3 341.6,699.5 345.2,698.5
M370.5,694.7 373.9,692.3 377.9,692.8 382.9,693.7 381.4,696.1 377.8,696.6 374.0,696.6 370.5,694.7
M294.3,524.2 297.2,531.8 300.1,539.3 304.4,550.8 302.3,559.3 304.9,570.8 301.1,579.3 301.2,591.9 302.5,601.9 304.1,614.4 304.7,624.4 306.1,634.4 308.0,646.8 313.2,659.1 317.8,671.4 319.8,683.6 326.3,690.8 337.6,695.6 344.7,697.5
M304.4,550.8 310.3,545.8 318.4,548.3 326.1,547.8 330.6,553.8 341.1,559.3 349.3,563.3 346.7,572.8 355.8,573.8 362.4,564.8 363.3,556.8 357.4,548.3 347.3,547.3 345.4,536.8 337.3,533.3 329.2,534.8 326.1,547.8
M373.8,605.9 372.3,599.4 362.4,590.9 353.0,587.9 359.4,578.3 367.3,572.8 362.4,564.8
M352.9,606.4 352.5,596.9 353.0,587.9
M347.3,547.3 345.6,527.8 335.2,517.7 333.0,505.7 323.1,501.7 311.9,496.7 309.9,486.7 302.5,488.2 291.7,491.7 286.5,484.2 278.1,484.2 271.9,473.2 275.0,461.6 288.1,457.6 288.4,444.1 290.1,432.6 300.3,427.6 299.6,419.1 298.1,406.5 288.6,401.5 278.5,399.5 275.8,390.5 278.6,380.5
M291.7,491.7 294.4,499.2 295.5,514.2 294.3,524.2 290.7,528.3
M242.6,453.6 247.6,461.6 251.8,454.1 263.6,444.1 264.8,437.1 274.7,448.1 288.1,457.6
M248.5,430.1 255.5,434.6 264.8,437.1
M290.1,432.6 287.9,428.1
M299.6,419.1 312.4,416.6 316.7,425.1 313.6,429.1 302.0,430.6 300.3,427.6
M312.4,416.6 325.7,414.1 328.9,410.6 326.8,406.5 332.9,396.5
M328.9,410.6 333.2,414.1 333.5,426.6 341.0,429.1 347.6,427.1 356.5,425.1 364.5,425.1 369.0,416.6
M341.0,429.1 344.2,419.6 341.2,414.1 344.9,407.1
M356.5,425.1 357.9,419.1 359.0,408.1"/>
</svg>
<div class="abs panelL"></div>
<div class="abs panelR"></div>
<div class="abs w title" style="left:30.4px;top:19px;transform:scale(1.0400,1.0000);">Global</div>
<div class="abs w title" style="left:184.3px;top:19px;transform:scale(0.8635,1.0000);">Air</div>
<div class="abs w title" style="left:250.6px;top:19px;transform:scale(0.9638,1.0000);">Lubrication</div>
<div class="abs w title" style="left:489.5px;top:19px;transform:scale(0.9556,1.0000);">System</div>
<div class="abs w title" style="left:647.5px;top:19px;transform:scale(1.0456,1.0000);">Market</div>
<div class="abs w title" style="left:32.0px;top:68px;transform:scale(0.9561,1.0700);">2018</div>
<div class="abs w title" style="left:137.5px;top:68px;transform:scale(1.0178,1.0700);">to</div>
<div class="abs w title" style="left:191.0px;top:68px;transform:scale(0.9561,1.0700);">2032</div>
<svg class="abs" style="left:1036px;top:28px" width="42" height="42" viewBox="1036 28 42 42">
  <circle cx="1057" cy="49.2" r="13.2" fill="none" stroke="#4e667f" stroke-width="4"/>
  <path d="M1042 54 L1041.7 63.3 L1048.5 60 Z" fill="#4e667f"/>
  <rect x="1048.7" y="49.2" width="3.9" height="11" fill="#22b2d8"/>
  <rect x="1054.7" y="44.2" width="4.2" height="16.6" fill="#22b2d8"/>
  <rect x="1062.2" y="40" width="3.9" height="19" fill="#4e667f"/>
</svg>
<div class="abs w" style="left:1077.8px;top:31.4px;font-size:19px;line-height:26px;color:#2fb4d0;transform:scaleX(1.012)">Credence</div>
<div class="abs w" style="left:1166.5px;top:31.4px;font-size:19px;line-height:26px;color:#5d7587;transform:scaleX(0.992)">Research</div>
<div class="abs w" style="left:1078px;top:55px;font-size:5.6px;line-height:8px;font-weight:bold;color:#4a4a4a;letter-spacing:3.37px;">Actionable</div>
<div class="abs w" style="left:1143.4px;top:55px;font-size:5.6px;line-height:8px;font-weight:bold;color:#4a4a4a;letter-spacing:3.18px;">Insights</div>
<div class="abs w" style="left:1193.8px;top:55px;font-size:5.6px;line-height:8px;font-weight:bold;color:#4a4a4a;letter-spacing:3.33px;">Delivered</div>
<div class="abs w h1" style="left:152.7px;top:152px;transform:scale(1.0738,1.0000);">Global</div>
<div class="abs w h1" style="left:208.5px;top:152px;transform:scale(1.0874,1.0000);">Market</div>
<div class="abs w h1" style="left:268.3px;top:152px;transform:scale(0.8616,1.0000);">Size,</div>
<div class="abs w h1" style="left:305.2px;top:152px;transform:scale(0.9655,1.0000);">2018,</div>
<div class="abs w h1" style="left:350.4px;top:152px;transform:scale(0.9663,1.0000);">2024</div>
<div class="abs w h1" style="left:390.2px;top:152px;transform:scale(1.0968,1.0000);">and</div>
<div class="abs w h1" style="left:426.9px;top:152px;transform:scale(0.9581,1.0000);">2032</div>
<div class="abs w h2" style="left:243.6px;top:176px;transform:scale(0.9864,1.0000);">(USD</div>
<div class="abs w h2" style="left:296.4px;top:176px;transform:scale(1.0974,1.0000);">Million)</div>
<div class="abs w h2" style="left:871.9px;top:154px;transform:scale(1.0832,1.0000);">CAGR</div>
<div class="abs w h2" style="left:940.1px;top:154px;transform:scale(1.0830,1.0000);">by</div>
<div class="abs w h2" style="left:972.5px;top:154px;transform:scale(1.0587,1.0000);">Region,</div>
<div class="abs w h2" style="left:1056.2px;top:154px;transform:scale(1.0588,1.0000);">%</div>
<div class="abs boxL"></div>
<div class="abs grid" style="top:298px"></div>
<div class="abs grid" style="top:331px"></div>
<div class="abs grid" style="top:365px"></div>
<div class="abs grid" style="top:399px"></div>
<div class="abs grid" style="top:433px"></div>
<div class="abs grid" style="top:466px"></div>
<div class="abs grid" style="top:500px"></div>
<div class="abs grid" style="top:533.6px"></div>
<div class="bar" style="left:92px;top:485px;width:83px;height:49px;background:#bf9000"></div>
<div class="abs w val" style="left:112.4px;top:464.67px;transform:scale(0.9588,1.0000);">1,468.67</div>
<div class="abs w yr" style="left:123.3px;top:540.69px;transform:scale(1.0567,1.0000);">2018</div>
<div class="bar" style="left:261px;top:444px;width:83px;height:90px;background:#33a3a3"></div>
<div class="abs w val" style="left:280.8px;top:425.17px;transform:scale(0.9735,1.0000);">2,662.37</div>
<div class="abs w yr" style="left:292.3px;top:540.69px;transform:scale(1.0567,1.0000);">2024</div>
<div class="bar" style="left:430px;top:322px;width:83px;height:212px;background:#0580b3"></div>
<div class="abs w val" style="left:449.5px;top:302.07px;transform:scale(1.0029,1.0000);">6,297.10</div>
<div class="abs w yr" style="left:461.3px;top:540.69px;transform:scale(1.0567,1.0000);">2032</div>
<div class="abs boxR"></div>
<div class="bar" style="left:713px;top:302px;width:246px;height:21px;background:#66d0ff"></div>
<div class="abs w val" style="left:967.7px;top:305.97px;transform:scale(0.9090,1.0000);">6.6%</div>
<div class="bar" style="left:713px;top:339px;width:304px;height:22px;background:#173b4b"></div>
<div class="abs w val" style="left:1025px;top:343.87px;transform:scale(0.9484,1.0000);">8.2%</div>
<div class="bar" style="left:713px;top:377px;width:328px;height:22px;background:#bf9000"></div>
<div class="abs w val" style="left:1049.4px;top:381.97px;transform:scale(0.9305,1.0000);">8.8%</div>
<div class="bar" style="left:713px;top:415px;width:426px;height:21px;background:#0580b3"></div>
<div class="abs w val" style="left:1147.3px;top:418.87px;transform:scale(0.9434,1.0000);">11.5%</div>
<div class="bar" style="left:713px;top:452px;width:345px;height:21.5px;background:#33a3a3"></div>
<div class="abs w val" style="left:1066.6px;top:456.97px;transform:scale(0.8983,1.0000);">9.3%</div>
<div class="bar" style="left:713px;top:490px;width:395px;height:21.5px;background:#2f7a9a"></div>
<div class="abs w val" style="left:1116.6px;top:494.97px;transform:scale(0.9303,1.0000);">10.6%</div>
<div class="abs sq" style="left:736.2px;top:542.3px;background:#2f7a9a"></div>
<div class="abs w lg" style="left:744.7px;top:537.66px;transform:scale(1.0249,1.0000);">North America</div>
<div class="abs sq" style="left:840px;top:542.3px;background:#33a3a3"></div>
<div class="abs w lg" style="left:848.3px;top:537.66px;transform:scale(0.9988,1.0000);">Europe</div>
<div class="abs sq" style="left:899.9px;top:542.3px;background:#0580b3"></div>
<div class="abs w lg" style="left:909.7px;top:537.66px;transform:scale(0.9844,1.0000);">Asia Pacific</div>
<div class="abs sq" style="left:985.8px;top:542.3px;background:#bf9000"></div>
<div class="abs w lg" style="left:994.6px;top:537.66px;transform:scale(1.0202,1.0000);">Latin America</div>
<div class="abs sq" style="left:1086px;top:542.3px;background:#173b4b"></div>
<div class="abs w lg" style="left:1094.9px;top:537.66px;transform:scale(0.9969,1.0000);">Middle East</div>
<div class="abs sq" style="left:1171.4px;top:542.3px;background:#66d0ff"></div>
<div class="abs w lg" style="left:1180.8px;top:537.66px;transform:scale(0.9615,1.0000);">Africa</div>
</body>
</html>
